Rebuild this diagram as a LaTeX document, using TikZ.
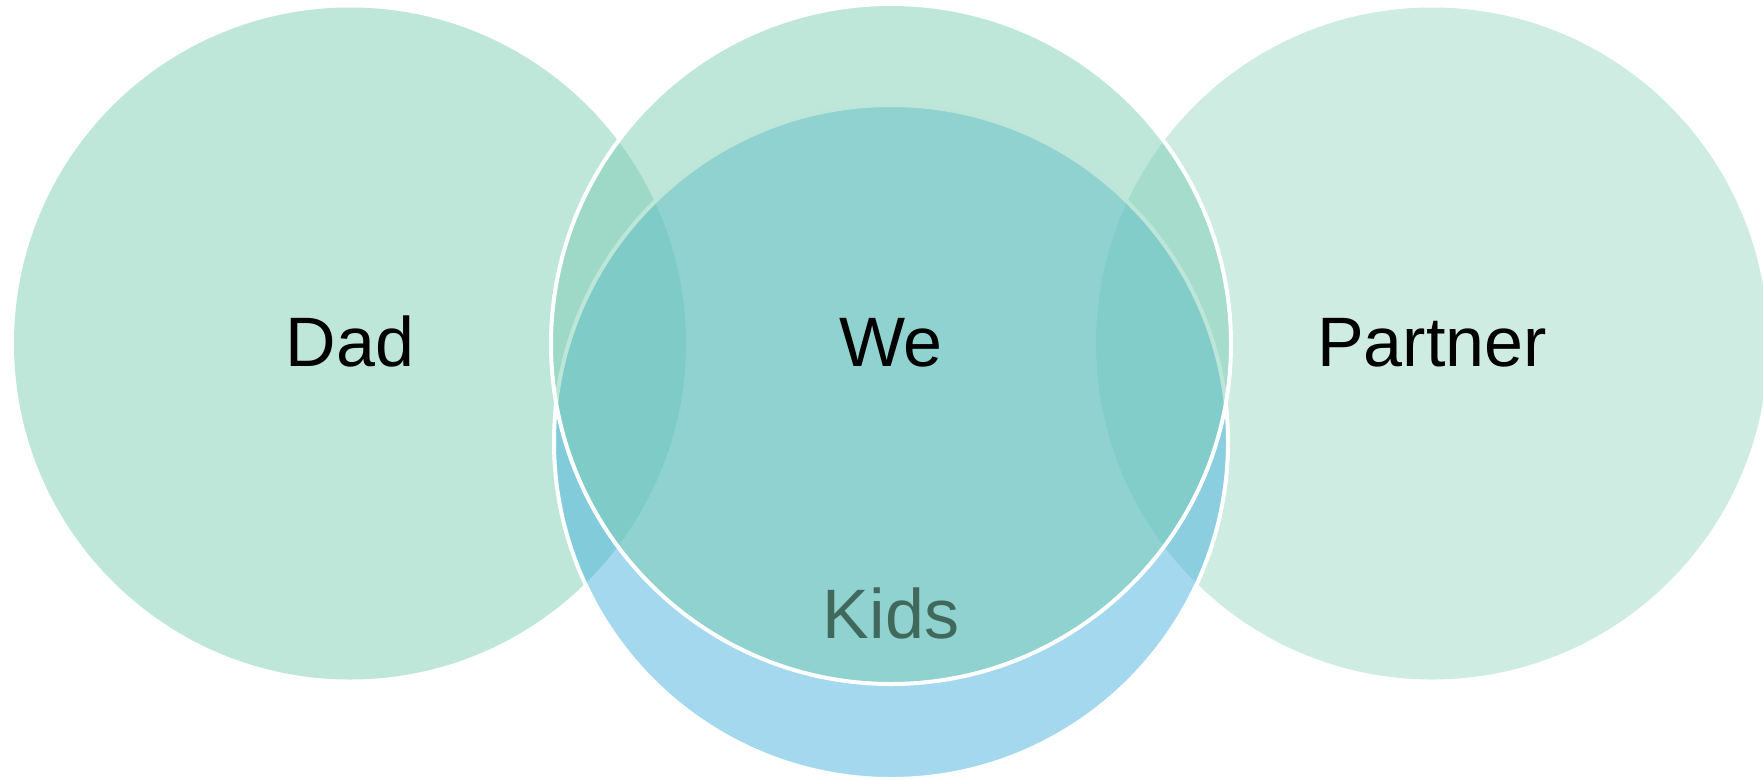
\documentclass[tikz,border=0pt]{standalone}
\usepackage{fontspec}
\setmainfont{Liberation Sans}
\definecolor{mint}{RGB}{125,205,179}
\definecolor{kidsblue}{RGB}{71,177,221}
\definecolor{kidstext}{RGB}{65,105,91}
\begin{document}
\begin{tikzpicture}[x=1pt,y=-1pt,
  ring/.style={circle,inner sep=0pt,outer sep=0pt,minimum size=672pt},
  outlined/.style={draw=white,line width=4pt},
  lbl/.style={font=\fontsize{70}{84}\selectfont,anchor=base,inner sep=0pt}]
\useasboundingbox (0,0) rectangle (1763,779);
\node[ring,fill=mint,fill opacity=0.38] (partner) at (1432,343.5) {};
\node[ring,fill=mint,fill opacity=0.5] (dad) at (350,343.5) {};
\node[ring,minimum size=674pt,fill=kidsblue,fill opacity=0.5,outlined] (kids) at (891,442) {};
\node[ring,minimum size=680pt,fill=mint,fill opacity=0.5,outlined] (we) at (891,344) {};
\node[lbl] (dadlbl) at (350,366) {Dad};
\node[lbl] (welbl) at (891,366) {We};
\node[lbl] (partnerlbl) at (1432,366) {Partner};
\node[lbl,text=kidstext] (kidslbl) at (891,638) {Kids};
\end{tikzpicture}
\end{document}
